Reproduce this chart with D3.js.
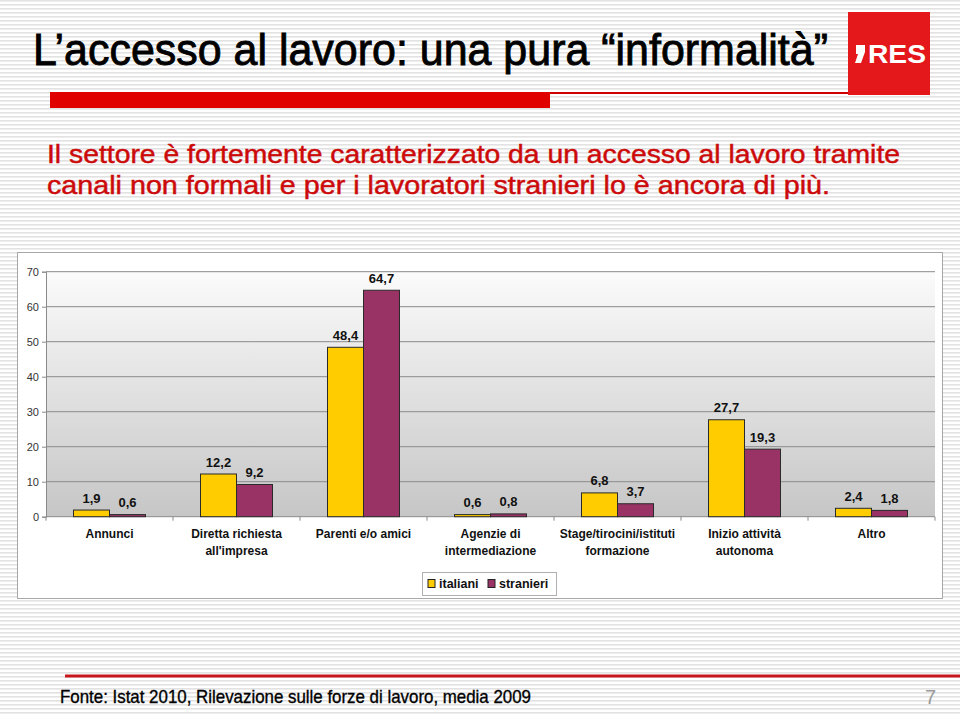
<!DOCTYPE html>
<html><head><meta charset="utf-8">
<script src="https://cdn.jsdelivr.net/npm/d3@7/dist/d3.min.js"></script>
<style>body{margin:0;background:#fff}svg{display:block}</style>
</head><body>
<script>
const categories = [["Annunci"],["Diretta richiesta","all'impresa"],["Parenti e/o amici"],["Agenzie di","intermediazione"],["Stage/tirocini/istituti","formazione"],["Inizio attività","autonoma"],["Altro"]];
const italiani = [1.9, 12.2, 48.4, 0.6, 6.8, 27.7, 2.4];
const stranieri = [0.6, 9.2, 64.7, 0.8, 3.7, 19.3, 1.8];
const seriesNames = ["italiani","stranieri"];
const yTicks = [0,10,20,30,40,50,60,70];
const fmt = v => String(v).replace(".", ",");

(function(){
const W=960,H=715;
const svg=d3.select("body").append("svg").attr("width",W).attr("height",H);
const defs=svg.append("defs");
const pat=defs.append("pattern").attr("id","stripes").attr("width",8).attr("height",4).attr("patternUnits","userSpaceOnUse");
pat.append("rect").attr("width",8).attr("height",4).attr("fill","#fff");
pat.append("rect").attr("y",0).attr("width",8).attr("height",1.6).attr("fill","#e2e2e2");
const grad=defs.append("linearGradient").attr("id","pbg").attr("x1",0).attr("x2",0).attr("y1",0).attr("y2",1);
grad.append("stop").attr("offset","0%").attr("stop-color","#fbfbfb");
grad.append("stop").attr("offset","100%").attr("stop-color","#c6c6c6");

svg.append("rect").attr("width",W).attr("height",H).attr("fill","url(#stripes)");

// Title
svg.append("text").attr("x",33).attr("y",65).attr("font-family","'Liberation Sans Narrow','Arial Narrow','Liberation Sans',Arial,sans-serif")
  .attr("font-size",45).attr("fill","#000").attr("stroke","#000").attr("stroke-width",0.9)
  .attr("textLength",795).attr("lengthAdjust","spacingAndGlyphs")
  .text("L’accesso al lavoro: una pura “informalità”");
// red bars
svg.append("rect").attr("x",50).attr("y",92).attr("width",500).attr("height",16).attr("fill","#e00000");
svg.append("rect").attr("x",550).attr("y",92).attr("width",300).attr("height",2).attr("fill","#d00000");
// logo
svg.append("rect").attr("x",848).attr("y",12).attr("width",82).attr("height",83).attr("fill","#e4171b");
svg.append("path").attr("d","M856,45 h9 v7 l-4,11 h-6 l3,-9 h-2 z").attr("fill","#fff");
svg.append("text").attr("x",868).attr("y",63).attr("font-family","'Liberation Sans',Arial,sans-serif").attr("font-weight","bold")
  .attr("font-size",26).attr("fill","#fff").attr("textLength",58).attr("lengthAdjust","spacingAndGlyphs").text("RES");

// Subtitle
const sub=svg.append("g").attr("font-family","'Liberation Sans',Arial,sans-serif").attr("font-size",25).attr("fill","#cc0a0a")
  .attr("stroke","#cc0a0a").attr("stroke-width",0.45);
sub.append("text").attr("x",47).attr("y",163).attr("textLength",853).attr("lengthAdjust","spacingAndGlyphs").text("Il settore è fortemente caratterizzato da un accesso al lavoro tramite");
sub.append("text").attr("x",47).attr("y",194).attr("textLength",783).attr("lengthAdjust","spacingAndGlyphs").text("canali non formali e per i lavoratori stranieri lo è ancora di più.");

// Chart box
svg.append("rect").attr("x",17.5).attr("y",252.5).attr("width",925).attr("height",346).attr("fill","#fff").attr("stroke","#a8a8a8");

const pl=46, pr=935, pt=271.7, pb=516.7;
const x=d3.scaleBand().domain(d3.range(categories.length)).range([pl,pr]);
const y=d3.scaleLinear().domain([0,70]).range([pb,pt]);
svg.append("rect").attr("x",pl).attr("y",pt).attr("width",pr-pl).attr("height",pb-pt).attr("fill","url(#pbg)");
// gridlines
svg.append("g").selectAll("line").data(yTicks.filter(d=>d>0)).join("line")
  .attr("x1",pl).attr("x2",pr).attr("y1",d=>y(d)).attr("y2",d=>y(d)).attr("stroke","#8a8a8a").attr("stroke-width",1);
// y axis
const ya=svg.append("g").attr("transform",`translate(${pl},0)`).call(d3.axisLeft(y).tickValues(yTicks).tickSize(4).tickPadding(3));
ya.select(".domain").attr("stroke","#8a8a8a");
ya.selectAll(".tick line").attr("stroke","#8a8a8a");
ya.selectAll("text").attr("font-family","'Liberation Sans',Arial,sans-serif").attr("font-size",11).attr("fill","#333");
// x axis line and ticks
svg.append("line").attr("x1",pl).attr("x2",pr).attr("y1",pb).attr("y2",pb).attr("stroke","#8a8a8a");
svg.append("g").selectAll("line").data(d3.range(categories.length+1)).join("line")
  .attr("x1",d=>pl+d*x.bandwidth()).attr("x2",d=>pl+d*x.bandwidth()).attr("y1",pb).attr("y2",pb+4).attr("stroke","#8a8a8a");

const bw=36;
const colors=["#ffcc00","#993366"];
const seriesData=[italiani,stranieri];
seriesData.forEach((vals,si)=>{
  const g=svg.append("g");
  g.selectAll("rect").data(vals).join("rect")
    .attr("x",(d,i)=>x(i)+x.bandwidth()/2-bw+si*bw).attr("width",bw)
    .attr("y",d=>y(d)).attr("height",d=>pb-y(d))
    .attr("fill",colors[si]).attr("stroke","#2a2a2a").attr("stroke-width",1);
  g.selectAll("text").data(vals).join("text")
    .attr("x",(d,i)=>x(i)+x.bandwidth()/2-bw/2+si*bw).attr("y",d=>y(d)-7.5)
    .attr("text-anchor","middle").attr("font-family","'Liberation Sans',Arial,sans-serif")
    .attr("font-weight","bold").attr("font-size",13).attr("fill","#111").text(d=>fmt(d));
});
// category labels
const cl=svg.append("g").attr("font-family","'Liberation Sans',Arial,sans-serif").attr("font-weight","bold").attr("font-size",12).attr("fill","#111");
categories.forEach((lines,i)=>{
  lines.forEach((t,j)=>{
    cl.append("text").attr("x",x(i)+x.bandwidth()/2).attr("y",538+j*16.5).attr("text-anchor","middle").text(t);
  });
});
// legend
const lg=svg.append("g");
lg.append("rect").attr("x",422.5).attr("y",572.5).attr("width",134).attr("height",23).attr("fill","#fff").attr("stroke","#b0b0b0");
const lx=[428,488];
seriesNames.forEach((n,i)=>{
  lg.append("rect").attr("x",lx[i]).attr("y",579.5).attr("width",7).attr("height",8).attr("fill",colors[i]).attr("stroke","#222");
  lg.append("text").attr("x",lx[i]+11).attr("y",588).attr("font-family","'Liberation Sans',Arial,sans-serif").attr("font-weight","bold")
    .attr("font-size",12.5).attr("fill","#111").text(n);
});

// footer
svg.append("rect").attr("x",65).attr("y",674.5).attr("width",895).attr("height",3).attr("fill","#c8161d");
svg.append("text").attr("x",60).attr("y",703).attr("font-family","'Liberation Sans Narrow','Arial Narrow','Liberation Sans',Arial,sans-serif")
  .attr("font-size",19).attr("fill","#000").attr("stroke","#000").attr("stroke-width",0.35)
  .attr("textLength",471).attr("lengthAdjust","spacingAndGlyphs")
  .text("Fonte: Istat 2010, Rilevazione sulle forze di lavoro, media 2009");
svg.append("text").attr("x",936).attr("y",704).attr("text-anchor","end").attr("font-family","'Liberation Sans',Arial,sans-serif")
  .attr("font-size",20).attr("fill","#9a9a9a").text("7");
})();
</script>
</body></html>
